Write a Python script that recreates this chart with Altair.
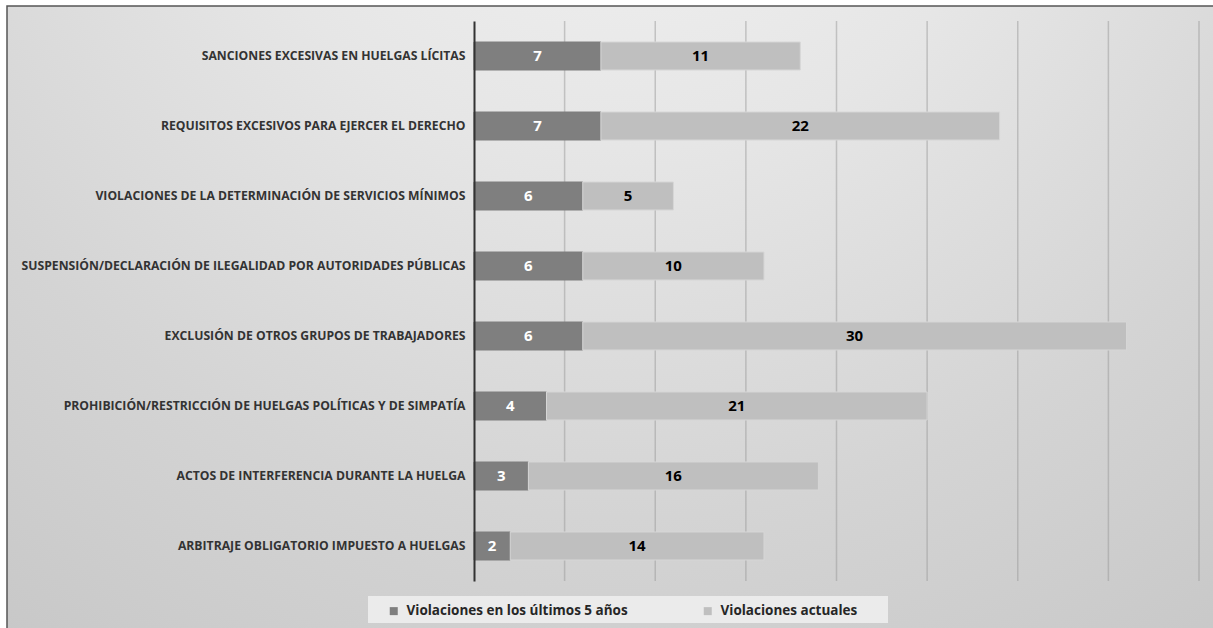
import altair as alt
import pandas as pd

categories = [
    "SANCIONES EXCESIVAS EN HUELGAS LÍCITAS",
    "REQUISITOS EXCESIVOS PARA EJERCER EL DERECHO",
    "VIOLACIONES DE LA DETERMINACIÓN DE SERVICIOS MÍNIMOS",
    "SUSPENSIÓN/DECLARACIÓN DE ILEGALIDAD POR AUTORIDADES PÚBLICAS",
    "EXCLUSIÓN DE OTROS GRUPOS DE TRABAJADORES",
    "PROHIBICIÓN/RESTRICCIÓN DE HUELGAS POLÍTICAS Y DE SIMPATÍA",
    "ACTOS DE INTERFERENCIA DURANTE LA HUELGA",
    "ARBITRAJE OBLIGATORIO IMPUESTO A HUELGAS",
]
series_names = ["Violaciones en los últimos 5 años", "Violaciones actuales"]
last5 = [7, 7, 6, 6, 6, 4, 3, 2]
current = [11, 22, 5, 10, 30, 21, 16, 14]
grid_ticks = [5, 10, 15, 20, 25, 30, 35, 40]
series_colors = ["#7f7f7f", "#bfbfbf"]

rows = []
for c, a, b in zip(categories, last5, current):
    rows.append({"cat": c, "series": series_names[0], "value": a, "start": 0, "end": a})
    rows.append({"cat": c, "series": series_names[1], "value": b, "start": a, "end": a + b})
df = pd.DataFrame(rows)
grid_df = pd.DataFrame({"t": grid_ticks})
one = pd.DataFrame({"k": [0]})

W, H = 725, 560
FONT = "Open Sans"

xscale = alt.Scale(domain=[0, 40], nice=False, zero=True)
yenc = alt.Y("cat:N", sort=categories, title=None,
             scale=alt.Scale(paddingInner=0.6, paddingOuter=0.3),
             axis=alt.Axis(domainColor="#333333", domainWidth=2, ticks=False,
                           labelFont=FONT, labelFontWeight="bold", labelFontSize=12.2,
                           labelColor="#333333", labelPadding=9, labelLimit=480,
                           grid=False, zindex=1))

bg = alt.Chart(one).mark_rect(
    color=alt.RadialGradient(
        gradient="radial", x1=0.5, y1=0.0, x2=0.5, y2=0.0, r1=0, r2=1,
        stops=[alt.GradientStop(color="#f5f5f5", offset=0),
               alt.GradientStop(color="#e6e6e6", offset=0.35),
               alt.GradientStop(color="#d4d4d4", offset=0.65),
               alt.GradientStop(color="#c3c3c3", offset=1)]),
    stroke="#555555", strokeWidth=1.5,
).encode(x=alt.value(-467), x2=alt.value(760), y=alt.value(-15), y2=alt.value(640))

legend_box = alt.Chart(one).mark_rect(color="#ebebeb").encode(
    x=alt.value(-106), x2=alt.value(414), y=alt.value(575), y2=alt.value(602))

grid = alt.Chart(grid_df).mark_rule(color="#9a9a9a", opacity=0.5, strokeWidth=1.5).encode(
    x=alt.X("t:Q", scale=xscale, axis=None), y=alt.value(0), y2=alt.value(H))

bars = alt.Chart(df).mark_bar(size=28, strokeWidth=1).encode(
    x=alt.X("start:Q", scale=xscale, axis=None),
    x2="end:Q",
    y=yenc,
    color=alt.Color("series:N", sort=series_names,
                    scale=alt.Scale(domain=series_names, range=series_colors),
                    legend=alt.Legend(title=None, orient="none", direction="horizontal",
                                      legendX=-87, legendY=583, symbolType="square",
                                      symbolSize=64, symbolStrokeWidth=0,
                                      labelFont=FONT, labelFontWeight="bold", labelFontSize=13.5,
                                      labelColor="#262626", labelOffset=6, columnPadding=73,
                                      labelLimit=400)),
    stroke=alt.Stroke("series:N", scale=alt.Scale(domain=series_names, range=["#7f7f7f", "#d6d6d6"]),
                      legend=None),
)

texts = alt.Chart(df).transform_calculate(mid="(datum.start + datum.end) / 2").mark_text(
    font=FONT, fontWeight="bold", fontSize=15, baseline="middle", align="center"
).encode(
    x=alt.X("mid:Q", scale=xscale, axis=None),
    y=alt.Y("cat:N", sort=categories),
    text="value:Q",
    color=alt.condition(alt.datum.series == series_names[0], alt.value("white"), alt.value("black")),
)

chart = alt.layer(bg, legend_box, grid, bars, texts).properties(
    width=W, height=H,
    padding={"left": 474, "top": 21, "right": 14, "bottom": 47},
    autosize=alt.AutoSizeParams(type="none"),
).configure_view(stroke=None).configure(background="white")

chart.save("out.html", embed_options={"renderer": "svg", "actions": False})
